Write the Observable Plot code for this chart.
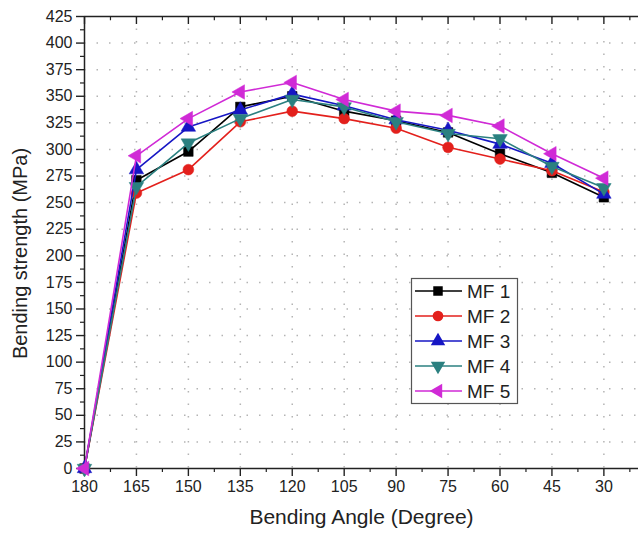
<!DOCTYPE html>
<html><head><meta charset="utf-8">
<script src="https://cdn.jsdelivr.net/npm/d3@7"></script>
<script src="https://cdn.jsdelivr.net/npm/@observablehq/plot@0.6"></script>
<style>body{margin:0;background:#fff;overflow:hidden}</style>
</head><body><div id="chart"></div>
<script>
const angles = [180,165,150,135,120,105,90,75,60,45,30];
const mf1 = [0,271,298,340,350,336,327,316,296,278,255];
const mf2 = [0,259,281,326,336,329,320,302,291,280,260];
const mf3 = [0,281,321,337,352,341,328,318,305,287,258];
const mf4 = [0,265,306,329,347,340,326,315,310,284,264];
const mf5 = [0,294,329,354,363,347,336,332,322,296,273];
const seriesNames = ["MF 1","MF 2","MF 3","MF 4","MF 5"];
const seriesValues = [mf1, mf2, mf3, mf4, mf5];
const seriesColors = ["#000000","#e3201c","#1616c4","#2b8080","#d02ad6"];
const xTicks = [180,165,150,135,120,105,90,75,60,45,30];
const xMinor = [172.5,157.5,142.5,127.5,112.5,97.5,82.5,67.5,52.5,37.5,22.5];
const yTicks = [0,25,50,75,100,125,150,175,200,225,250,275,300,325,350,375,400,425];
const yMinor = yTicks.slice(0,-1).map(v => v + 12.5);
const axisTitleX = "Bending Angle (Degree)";
const axisTitleY = "Bending strength (MPa)";

const triDown = {draw(ctx, size){ const y = -Math.sqrt(size/(Math.sqrt(3)*3)); const s = Math.sqrt(3);
  ctx.moveTo(0,-y*2); ctx.lineTo(-s*y, y); ctx.lineTo(s*y, y); ctx.closePath(); }};
const triLeft = {draw(ctx, size){ const y = -Math.sqrt(size/(Math.sqrt(3)*3)); const s = Math.sqrt(3);
  ctx.moveTo(y*2,0); ctx.lineTo(-y, -s*y); ctx.lineTo(-y, s*y); ctx.closePath(); }};
const symbols = [d3.symbolSquare, d3.symbolCircle, d3.symbolTriangle, triDown, triLeft];

const rows = seriesNames.flatMap((name, i) => angles.map((a, j) => ({series: name, angle: a, value: seriesValues[i][j]})));

const seriesMarks = seriesNames.flatMap((name, i) => {
  const d = rows.filter(r => r.series === name);
  return [
    Plot.line(d, {x: "angle", y: "value", stroke: seriesColors[i], strokeWidth: 1.6}),
    Plot.dot(d, {x: "angle", y: "value", fill: seriesColors[i], stroke: seriesColors[i], strokeWidth: 0.5, r: 5.4, symbol: () => symbols[i]})
  ];
});

const FONT = "'Liberation Sans', Arial, sans-serif";
const chart = Plot.plot({
  width: 638, height: 538,
  marginLeft: 84, marginRight: 0, marginTop: 16, marginBottom: 70,
  style: {fontFamily: FONT, fontSize: "16px", color: "#222", background: "#fff"},
  x: {type: "linear", domain: [180, 20]},
  y: {domain: [0, 425]},
  symbol: {type: "identity"},
  marks: [
    Plot.gridX({ticks: xTicks.slice(1), stroke: "#b4b4b4", strokeOpacity: 1, strokeWidth: 1.5, strokeDasharray: "1.5,11"}),
    Plot.gridY({ticks: yTicks.slice(1, -1), stroke: "#b4b4b4", strokeOpacity: 1, strokeWidth: 1.5, strokeDasharray: "1.5,11"}),
    Plot.axisX({ticks: xTicks, tickSize: 8, tickPadding: 4, tickFormat: d => String(d), label: null, stroke: "#222", strokeWidth: 1.4, ariaLabel: "xlab"}),
    Plot.axisX({ticks: xMinor, tickSize: 4, text: null, label: null, stroke: "#222", strokeWidth: 1.2}),
    Plot.axisY({ticks: yTicks, tickSize: 8, tickPadding: 4, tickFormat: d => String(d), label: null, stroke: "#222", strokeWidth: 1.4}),
    Plot.axisY({ticks: yMinor, tickSize: 4, text: null, label: null, stroke: "#222", strokeWidth: 1.2}),
    Plot.ruleX(xTicks, {y1: 425, y2: 417.5, stroke: "#222", strokeWidth: 1.4}),
    Plot.ruleX(xMinor, {y1: 425, y2: 421, stroke: "#222", strokeWidth: 1.2}),
    Plot.ruleY([0], {stroke: "#222", strokeWidth: 1.5}),
    Plot.ruleY([425], {stroke: "#222", strokeWidth: 1.5}),
    Plot.ruleX([180], {stroke: "#222", strokeWidth: 1.5}),
    ...seriesMarks,
    Plot.text([axisTitleX], {frameAnchor: "bottom", dy: 55, fontSize: 21, fill: "#222", textAnchor: "middle"}),
    Plot.text([axisTitleY], {frameAnchor: "left", dx: -64, dy: 11, rotate: -90, fontSize: 20, fill: "#222", textAnchor: "middle"})
  ]
});
document.getElementById("chart").appendChild(chart);

// enforce tick label font size
d3.select(chart).selectAll("g[aria-label='x-axis tick label'], g[aria-label='y-axis tick label']")
  .attr("font-size", 16).style("font-size", "16px");

// legend
const svg = d3.select(chart);
const lg = svg.append("g").attr("font-family", FONT).attr("text-anchor", "start");
lg.append("rect").attr("x", 411.5).attr("y", 278.5).attr("width", 106).attr("height", 125)
  .attr("fill", "#fff").attr("stroke", "#555").attr("stroke-width", 1.2);
seriesNames.forEach((name, i) => {
  const yy = 291 + i * 25;
  lg.append("line").attr("x1", 415).attr("x2", 462).attr("y1", yy).attr("y2", yy)
    .attr("stroke", seriesColors[i]).attr("stroke-width", 1.6);
  lg.append("path").attr("d", d3.symbol(symbols[i], 90)()).attr("transform", `translate(438,${yy})`)
    .attr("fill", seriesColors[i]);
  lg.append("text").attr("x", 467).attr("y", yy).attr("dy", "0.35em").attr("font-size", 19)
    .attr("text-anchor", "start").attr("fill", "#222").text(name);
});
</script>
</body></html>
